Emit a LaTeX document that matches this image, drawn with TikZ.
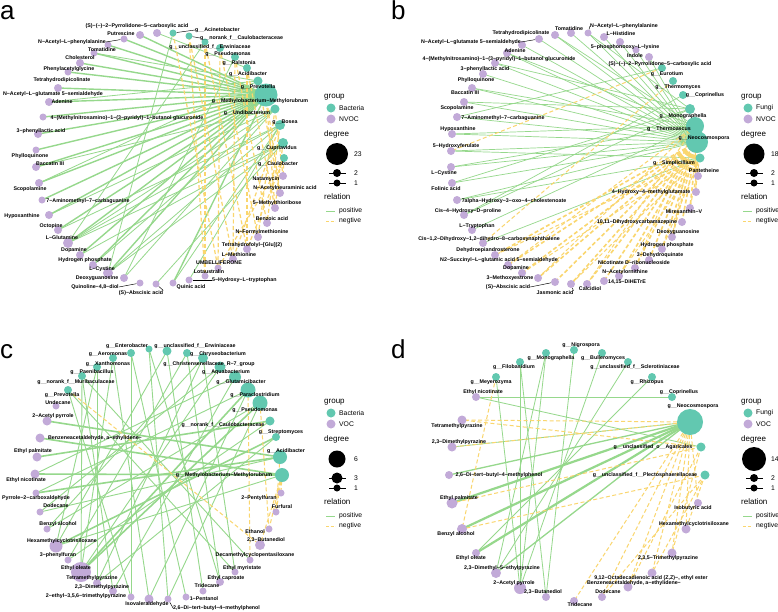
\documentclass[tikz,border=0pt]{standalone}
\usepackage{fontspec}
\setmainfont{Liberation Sans}
\pgfdeclarelayer{bgl}
\pgfdeclarelayer{edges}
\pgfsetlayers{bgl,edges,main}
\definecolor{tealc}{RGB}{98,200,176}
\definecolor{purpc}{RGB}{194,170,216}
\definecolor{posc}{RGB}{150,216,140}
\definecolor{negc}{RGB}{250,214,110}
\newcommand\lbf{\fontsize{5.3}{6}\selectfont\bfseries}
\newcommand\lgt{\fontsize{8}{9}\selectfont}
\newcommand\lgi{\fontsize{6.8}{8}\selectfont}
\newcommand\mylegend[9]{%
\begin{scope}[shift={(#2,#3)}]
\node[ltitle] (#1g) at (324,97) {group};
\node[tn=9] (#1c1) at (331,108) {};
\node[litem] (#1t1) at (339,108) {#4};
\node[pn=9] (#1c2) at (331,119) {};
\node[litem] (#1t2) at (339,119) {#5};
\node[ltitle] (#1d) at (324,134) {degree};
\node[circle,fill=black,inner sep=0pt,minimum size=#7pt] (#1k1) at (337,154) {};
\node[litem] (#1n1) at (354,154) {#6};
\coordinate (#1a2) at (329,173); \coordinate (#1b2) at (346,173);
\draw[line width=0.6pt] (#1a2) -- (#1b2);
\node[circle,fill=black,inner sep=0pt,minimum size=#9pt] (#1k2) at (337,173) {};
\node[litem] (#1n2) at (354,173) {#8};
\coordinate (#1a3) at (329,183); \coordinate (#1b3) at (346,183);
\draw[line width=0.6pt] (#1a3) -- (#1b3);
\node[circle,fill=black,inner sep=0pt,minimum size=7pt] (#1k3) at (337,183) {};
\node[litem] (#1n3) at (354,183) {1};
\node[ltitle] (#1r) at (324,197) {relation};
\coordinate (#1pa) at (326,211); \coordinate (#1pb) at (335,211);
\draw[posE=0.9] (#1pa) -- (#1pb);
\node[litem] (#1pt) at (339,211) {positive};
\coordinate (#1na) at (326,221); \coordinate (#1nb) at (335,221);
\draw[negE=0.9,dash pattern=on 3pt off 1.5pt] (#1na) -- (#1nb);
\node[litem] (#1nt) at (339,221) {negtive};
\end{scope}}
\begin{document}
\begin{tikzpicture}[x=1pt,y=-1pt,
 tn/.style={circle,fill=tealc,draw=none,inner sep=0pt,minimum size=#1pt},
 pn/.style={circle,fill=purpc,draw=none,inner sep=0pt,minimum size=#1pt},
 lb/.style={font=\lbf,inner sep=0pt,text=black},
 posE/.style={draw=posc,line width=#1pt},
 negE/.style={draw=negc,line width=#1pt,dash pattern=on 4pt off 2.5pt},
 lk/.style={draw=black,line width=0.45pt},
 ltitle/.style={font=\lgt,anchor=west,inner sep=0pt},
 litem/.style={font=\lgi,anchor=west,inner sep=0pt},
 plet/.style={font=\fontsize{26}{28}\selectfont,anchor=base west,inner sep=0pt}]
\begin{pgfonlayer}{bgl}
\fill[white] (0,0) rectangle (778,611);
\end{pgfonlayer}
\useasboundingbox (0,0) rectangle (778,611);

% ---------------- panel letters
\node[plet] (La) at (0,19) {a};
\node[plet] (Lb) at (391,19) {b};
\node[plet] (Lc) at (0,358) {c};
\node[plet] (Ld) at (391,358) {d};

% ================= PANEL A =================
\foreach \n/\x/\y/\s in {aT1/173/33/7,aT2/189/36/7,aT3/205/42/7,aT4/220/48/8,aT5/235/57/8,aT6/247/68/8,aT7/258/81/9,aT8/266/95/23,aT9/275/109/9,aT10/280/125/10,aT11/283/143/10,aT12/284/158/8}
  \node[tn=\s] (\n) at (\x,\y) {};
\foreach \n/\x/\y/\s in {aP1/157/33/8,aP2/140/35/8,aP3/124/39/7,aP4/108/45/7,aP5/94/53/7,aP6/80/63/8,aP7/68/72/7,aP8/58/88/8,aP9/49/102/8,aP10/43/117/7,aP11/38/134/8,aP12/36/150/7,aP13/36/167/8,aP14/39/183/8,aP15/42/200/7,aP16/49/215/8,aP17/58/230/8,aP18/68/243/10,aP19/80/255/8,aP20/93/265/8,aP21/108/273/10,aP22/124/278/8,aP23/140/283/7,aP24/156/284/7,aP25/173/283/7,aP26/189/280/7,aP27/205/276/7,aP28/218/268/7,aP29/233/259/8,aP30/247/249/8,aP31/258/237/8,aP32/267/223/8,aP33/275/208/8,aP34/280/193/8,aP35/283/176/8}
  \node[pn=\s] (\n) at (\x,\y) {};
\foreach \x/\y/\t [count=\i] in {137/26/{(S)−(−)−2−Pyrrolidone−5−carboxylic acid},121/34/{Putrescine},102/50/{Tomatidine},80/58/{Cholesterol},69/69/{Phenylacetylglycine},62/80/{Tetrahydrodipicolinate},53/94/{N−Acetyl−L−glutamate 5−semialdehyde},62/102/{Adenine},127/118/{4−(Methylnitrosamino)−1−(3−pyridyl)−1−butanol glucuronide},41/131/{3−phenyllactic acid},30/156/{Phylloquinone},50/164/{Baccatin III},30/189/{Scopolamine},88/201/{7−Aminomethyl−7−carbaguanine},22/216/{Hypoxanthine},51/226/{Octopine},62/238/{L−Glutamine},74/250/{Dopamine},85/260/{Hydrogen phosphate},102/269/{L−Cystine},97/278/{Deoxyguanosine},191/287/{Quinic acid},209/272/{Lotaustralin},219/263/{UMBELLIFERONE},239/255/{L−Methionine},252/245/{Tetrahydrofolyl−[Glu](2)},262/232/{N−Formylmethionine},272/219/{Benzoic acid},277/203/{5−Methylthioribose},285/188/{N−Acetylneuraminic acid},266/179/{Natamycin},210/47/{g\_\_unclassified\_f\_\_Erwiniaceae},228/54/{g\_\_Pseudomonas},239/63/{g\_\_Ralstonia},248/74/{g\_\_Acidibacter},258/87/{g\_\_Prevotella},260/101/{g\_\_Methylobacterium−Methylorubrum},247/113/{g\_\_Undibacterium},285/122/{g\_\_Bosea},277/148/{g\_\_Cupriavidus},278/164/{g\_\_Caulobacter}}
  \node[lb] (aL\i) at (\x,\y) {\t};
\node[lb] (aLnap) at (72,42) {N−Acetyl−L−phenylalanine};
\node[lb,anchor=west] (aLaci) at (195,30) {g\_\_Acinetobacter};
\node[lb,anchor=west] (aLnor) at (200,38) {g\_\_norank\_f\_\_Caulobacteraceae};
\node[lb] (aLqui) at (95,287) {Quinoline−4,8−diol};
\node[lb] (aLabs) at (141,293) {(S)−Abscisic acid};
\node[lb,anchor=west] (aLhyd) at (212,280) {5−Hydroxy−L−tryptophan};
\draw[lk] (aLnap.east) -- (aP3);
\draw[lk] (aLaci.west) -- (aT1);
\draw[lk] (aLnor.west) -- (aT2);
\draw[lk] (aLqui.east) -- (aP23);
\draw[lk] (aLabs.north east) -- (aP24);
\draw[lk] (aLhyd.west) -- (aP26);

\begin{pgfonlayer}{edges}
\foreach \t in {aP2,aP3,aP4,aP5,aP6,aP7,aP8,aP9,aP10,aP11,aP12,aP13,aP14,aP15,aP16,aP17,aP18,aP19,aP20,aP21,aP25}
  \draw[posE=1.4] (aT8.center) -- (\t.center);
\foreach \a/\b in {aT9/aP13,aT9/aP16,aT9/aP18,aT9/aP20,aT9/aP22,aT10/aP17,aT10/aP18,aT10/aP21,aT10/aP25,aT10/aP26,aT11/aP18,aT11/aP19,aT11/aP21,aT11/aP24,aT1/aP21,aT3/aP18,aT5/aP22,aT7/aP14,aT7/aP9,aT7/aP5,aT6/aP1}
  \draw[posE=0.8] (\a.center) -- (\b.center);
\foreach \a/\b in {aT1/aP28,aT2/aP29,aT3/aP27,aT3/aP30,aT4/aP31,aT4/aP28,aT5/aP32,aT5/aP29,aT6/aP33,aT6/aP30,aT7/aP34,aT9/aP35,aT9/aP31,aT10/aP32,aT10/aP29,aT11/aP33,aT12/aP35,aT12/aP30,aT12/aP28,aT8/aP34,aT8/aP33,aT2/aP27}
  \draw[negE=1.2] (\a.center) -- (\b.center);
\end{pgfonlayer}

\mylegend{lgA}{0}{0}{Bacteria}{NVOC}{23}{22}{2}{8}

% ================= PANEL B =================
\foreach \n/\x/\y/\s in {bT1/662/68/8,bT2/673/81/8,bT3/683/95/8,bT4/690/109/10,bT5/695/126/18,bT6/697/142/22,bT7/700/158/9}
  \node[tn=\s] (\n) at (\x,\y) {};
\foreach \n/\x/\y/\s in {bP1/571/33/8,bP2/588/33/7,bP3/604/37/8,bP4/620/42/8,bP5/636/50/7,bP6/649/57/8,bP7/698/176/8,bP8/696/192/8,bP9/690/208/8,bP10/682/222/8,bP11/672/237/8,bP12/662/249/8,bP13/649/260/8,bP14/635/268/8,bP15/619/276/8,bP16/604/281/8,bP17/587/284/8,bP18/571/284/8,bP19/555/282/8,bP20/538/278/8,bP21/522/273/8,bP22/508/265/8,bP23/495/255/8,bP24/483/243/8,bP25/472/230/8,bP26/464/215/8,bP27/457/200/8,bP28/452/183/8,bP29/451/167/8,bP30/451/151/8,bP31/452/134/8,bP32/457/117/8,bP33/464/102/8,bP34/472/88/8,bP35/483/74/8,bP36/495/63/8,bP37/507/53/8,bP38/522/45/8,bP39/539/39/8,bP40/555/35/8}
  \node[pn=\s] (\n) at (\x,\y) {};
\foreach \x/\y/\t [count=\i] in {569/29/{Tomatidine},621/34/{L−Histidine},625/47/{5−phosphonooxy−L−lysine},635/56/{Indole},660/64/{(S)−(−)−2−Pyrrolidone−5−carboxylic acid},667/74/{g\_\_Eurotium},678/87/{g\_\_Thermomyces},705/95/{g\_\_Coprinellus},683/116/{g\_\_Monographella},669/129/{g\_\_Thermoascus},704/138/{g\_\_Neocosmospora},674/163/{g\_\_Simplicillium},704/171/{Pantetheine},651/192/{4−Hydroxy−4−methylglutamate},684/212/{Mirexanthin−V},637/222/{10,11−Dihydroxycarbamazepine},678/232/{Deoxyguanosine},667/245/{Hydrogen phosphate},660/255/{3−Dehydroquinate},634/263/{Nicotinate D−ribonucleoside},625/272/{N−Acetylornithine},627/282/{14,15−DiHETrE},590/289/{Calcidiol},510/278/{3−Methoxyestrone},516/268/{Dopamine},499/260/{N2−Succinyl−L−glutamic acid 5−semialdehyde},488/250/{Dehydroepiandrosterone},489/239/{Cis−1,2−Dihydroxy−1,2−dihydro−8−carboxynaphthalene},477/226/{L−Tryptophan},468/211/{Cis−4−Hydroxy−D−proline},514/201/{7alpha−Hydroxy−3−oxo−4−cholestenoate},446/189/{Folinic acid},444/173/{L−Cystine},456/146/{5−Hydroxyferulate},458/129/{Hypoxanthine},503/118/{7−Aminomethyl−7−carbaguanine},457/108/{Scopolamine},465/93/{Baccatin III},476/80/{Phylloquinone},485/69/{3−phenyllactic acid},499/59/{4−(Methylnitrosamino)−1−(3−pyridyl)−1−butanol glucuronide},515/51/{Adenine},521/33/{Tetrahydrodipicolinate}}
  \node[lb] (bL\i) at (\x,\y) {\t};
\node[lb,anchor=west] (bLnap) at (590,26) {N−Acetyl−L−phenylalanine};
\node[lb] (bLnag) at (471,42) {N−Acetyl−L−glutamate 5−semialdehyde};
\node[lb] (bLabs) at (508,287) {(S)−Abscisic acid};
\node[lb] (bLjas) at (555,293) {Jasmonic acid};
\draw[lk] (bLnap.west) -- (bP2);
\draw[lk] (bLnag.east) -- (bP39);
\draw[lk] (bLabs.east) -- (bP19);
\draw[lk] (bLjas.north east) -- (bP18);

\begin{pgfonlayer}{edges}
\foreach \t in {bP1,bP2,bP3,bP4,bP5,bP6,bP27,bP28,bP29,bP30,bP31,bP32,bP33,bP34,bP35,bP36,bP37,bP38,bP39,bP40}
  \draw[posE=0.7] (bT6.center) -- (\t.center);
\foreach \a/\b in {bT5/bP29,bT5/bP31,bT5/bP34,bT5/bP37,bT5/bP40,bT5/bP25,bT4/bP26,bT4/bP28,bT4/bP33,bT4/bP36,bT4/bP2,bT7/bP24,bT7/bP30,bT7/bP27,bT1/bP32,bT3/bP26}
  \draw[posE=0.7] (\a.center) -- (\b.center);
\foreach \t in {bP7,bP8,bP9,bP10,bP11,bP12,bP13,bP14,bP15,bP16,bP17,bP18,bP19,bP20,bP21,bP22,bP23}
  \draw[negE=1.6] (bT6.center) -- (\t.center);
\foreach \a/\b in {bT5/bP8,bT5/bP11,bT5/bP14,bT5/bP17,bT5/bP20,bT5/bP22,bT7/bP9,bT7/bP12,bT7/bP15,bT7/bP18,bT7/bP21,bT7/bP23,bT1/bP30,bT2/bP24}
  \draw[negE=1.0] (\a.center) -- (\b.center);
\end{pgfonlayer}

\mylegend{lgB}{417}{0}{Fungi}{NVOC}{18}{21}{2}{8}

% ================= PANEL C =================
\foreach \n/\x/\y/\s in {cT1/68/390/8,cT2/82/376/8,cT3/97/367/8,cT4/113/358/8,cT5/131/353/8,cT6/149/349/7,cT7/167/351/9,cT8/187/353/8,cT9/203/358/10,cT10/220/367/11,cT11/235/377/12,cT12/248/390/15,cT13/260/403/15,cT14/270/421/9,cT15/276/437/8,cT16/280/457/14,cT17/282/475/14}
  \node[tn=\s] (\n) at (\x,\y) {};
\foreach \n/\x/\y/\s in {cP1/56/406/7,cP2/47/421/9,cP3/40/438/9,cP4/37/457/9,cP5/35/474/9,cP6/36/493/7,cP7/40/512/7,cP8/47/529/7,cP9/56/546/13,cP10/68/560/7,cP11/81/572/20,cP12/97/583/8,cP13/113/591/8,cP14/131/597/7,cP15/149/599/9,cP16/168/599/7,cP17/186/597/7,cP18/203/591/7,cP19/220/582/8,cP20/235/572/7,cP21/250/560/7,cP22/260/545/10,cP23/269/529/7,cP24/276/512/7,cP25/281/493/7}
  \node[pn=\s] (\n) at (\x,\y) {};
\foreach \x/\y/\t [count=\i] in {127/346/{g\_\_Enterobacter},195/346/{g\_\_unclassified\_f\_\_Erwiniaceae},108/354/{g\_\_Aeromonas},218/354/{g\_\_Chryseobacterium},108/364/{g\_\_Xanthomonas},209/364/{g\_\_Christensenellaceae\_R−7\_group},92/372/{g\_\_Paenibacillus},226/372/{g\_\_Aquabacterium},76/382/{g\_\_norank\_f\_\_Muribaculaceae},241/382/{g\_\_Glutamicibacter},62/395/{g\_\_Prevotella},255/395/{g\_\_Paraclostridium},58/403/{Undecane},255/410/{g\_\_Pseudomonas},53/416/{2−Acetyl pyrrole},223/425/{g\_\_norank\_f\_\_Caulobacteraceae},281/432/{g\_\_Streptomyces},95/438/{Benzeneacetaldehyde, a−ethylidene−},33/451/{Ethyl palmitate},286/451/{g\_\_Acidibacter},224/475/{g\_\_Methylobacterium−Methylorubrum},26/480/{Ethyl nicotinate},36/498/{Pyrrole−2−carboxaldehyde},259/498/{2−Pentylfuran},56/506/{Dodecane},282/507/{Furfural},58/524/{Benzyl alcohol},255/532/{Ethanol},266/540/{2,3−Butanediol},62/541/{Hexamethylcyclotrisiloxane},58/555/{3−phenylfuran},255/555/{Decamethylcyclopentasiloxane},76/568/{Ethyl oleate},242/568/{Ethyl myristate},92/578/{Tetramethylpyrazine},226/578/{Ethyl caproate},102/587/{2,3−Dimethylpyrazine},207/586/{Tridecane},86/596/{2−ethyl−3,5,6−trimethylpyrazine},204/599/{1−Pentanol},147/604/{Isovaleraldehyde}}
  \node[lb] (cL\i) at (\x,\y) {\t};
\node[lb,anchor=west] (cLdtb) at (173,608) {2,6−Di−tert−butyl−4−methylphenol};
\draw[lk] (cLdtb.west) -- (cP16);

\begin{pgfonlayer}{edges}
\foreach \a/\b in {cT16/cP2,cT17/cP3,cT14/cP4,cT12/cP11,cT13/cP11,cT15/cP9,cT17/cP5,cT16/cP6}
  \draw[posE=1.6] (\a.center) -- (\b.center);
\foreach \a/\b in {cT2/cP11,cT2/cP13,cT3/cP12,cT3/cP9,cT4/cP15,cT4/cP11,cT5/cP14,cT5/cP17,cT6/cP16,cT6/cP19,cT7/cP18,cT7/cP9,cT8/cP19,cT8/cP10,cT9/cP20,cT9/cP8,cT10/cP11,cT10/cP7,cT11/cP13,cT11/cP5,cT12/cP6,cT12/cP15,cT13/cP16,cT13/cP8,cT14/cP10,cT15/cP12,cT16/cP7,cT17/cP9,cT1/cP14,cT1/cP20,cT2/cP21,cT9/cP12}
  \draw[posE=0.9] (\a.center) -- (\b.center);
\foreach \a/\b in {cT1/cP22,cT17/cP22,cT17/cP23,cT17/cP24,cT17/cP25,cT16/cP24,cT13/cP23,cT12/cP21}
  \draw[negE=1.0] (\a.center) -- (\b.center);
\end{pgfonlayer}

\mylegend{lgC}{0}{305}{Bacteria}{VOC}{6}{17}{3}{11}

% ================= PANEL D =================
\foreach \n/\x/\y/\s in {dT1/574/350/8,dT2/546/353/8,dT3/602/353/8,dT4/520/362/8,dT5/628/362/8,dT6/496/377/8,dT7/652/377/8,dT8/672/397/8,dT9/690/422/26,dT10/701/447/9,dT11/705/475/9}
  \node[tn=\s] (\n) at (\x,\y) {};
\foreach \n/\x/\y/\s in {dP1/476/397/8,dP2/462/420/9,dP3/452/447/9,dP4/449/475/8,dP5/452/503/11,dP6/462/529/10,dP7/476/553/8,dP8/496/573/10,dP9/520/588/12,dP10/546/597/8,dP11/574/601/8,dP12/602/597/8,dP13/628/587/9,dP14/652/573/9,dP15/672/553/9,dP16/686/529/9,dP17/698/503/8}
  \node[pn=\s] (\n) at (\x,\y) {};
\foreach \x/\y/\t [count=\i] in {581/345/{g\_\_Nigrospora},551/358/{g\_\_Monographella},603/358/{g\_\_Bulleromyces},514/367/{g\_\_Filobasidium},635/367/{g\_\_unclassified\_f\_\_Sclerotiniaceae},491/382/{g\_\_Meyerozyma},647/382/{g\_\_Rhizopus},679/392/{g\_\_Coprinellus},693/406/{g\_\_Neocosmospora},483/392/{Ethyl nicotinate},457/426/{Tetramethylpyrazine},459/442/{2,3−Dimethylpyrazine},653/447/{g\_\_unclassified\_o\_\_Agaricales},499/475/{2,6−Di−tert−butyl−4−methylphenol},645/475/{g\_\_unclassified\_f\_\_Plectosphaerellaceae},459/498/{Ethyl palmitate},693/508/{Isobutyric acid},694/524/{Hexamethylcyclotrisiloxane},456/534/{Benzyl alcohol},668/558/{2,3,5−Trimethylpyrazine},471/558/{Ethyl oleate},502/568/{2,3−Dimethyl−5−ethylpyrazine},651/578/{9,12−Octadecadienoic acid (Z,Z)−, ethyl ester},634/583/{Benzeneacetaldehyde, a−ethylidene−},514/583/{2−Acetyl pyrrole},608/592/{Dodecane},543/592/{2,3−Butanediol},580/605/{Tridecane}}
  \node[lb] (dL\i) at (\x,\y) {\t};

\begin{pgfonlayer}{edges}
\foreach \t in {dP5,dP6,dP7}
  \draw[posE=2.2] (dT9.center) -- (\t.center);
\foreach \t in {dP4,dP8}
  \draw[posE=1.3] (dT9.center) -- (\t.center);
\foreach \a/\b in {dT4/dP9,dT4/dP10,dT2/dP9,dT2/dP8,dT1/dP10,dT3/dP9,dT5/dP8,dT7/dP7,dT8/dP1,dT10/dP1,dT9/dP3,dT6/dP9}
  \draw[posE=0.8] (\a.center) -- (\b.center);
\foreach \a/\b in {dT9/dP2,dT9/dP3,dT9/dP12,dT9/dP13,dT9/dP14,dT9/dP15,dT9/dP16,dT9/dP17,dT9/dP11,dT10/dP13,dT10/dP15,dT10/dP5,dT11/dP14,dT11/dP16,dT11/dP6,dT11/dP12,dT6/dP6,dT10/dP2}
  \draw[negE=1.0] (\a.center) -- (\b.center);
\end{pgfonlayer}

\mylegend{lgD}{417}{305}{Fungi}{VOC}{14}{24}{2}{8}
\end{tikzpicture}
\end{document}
